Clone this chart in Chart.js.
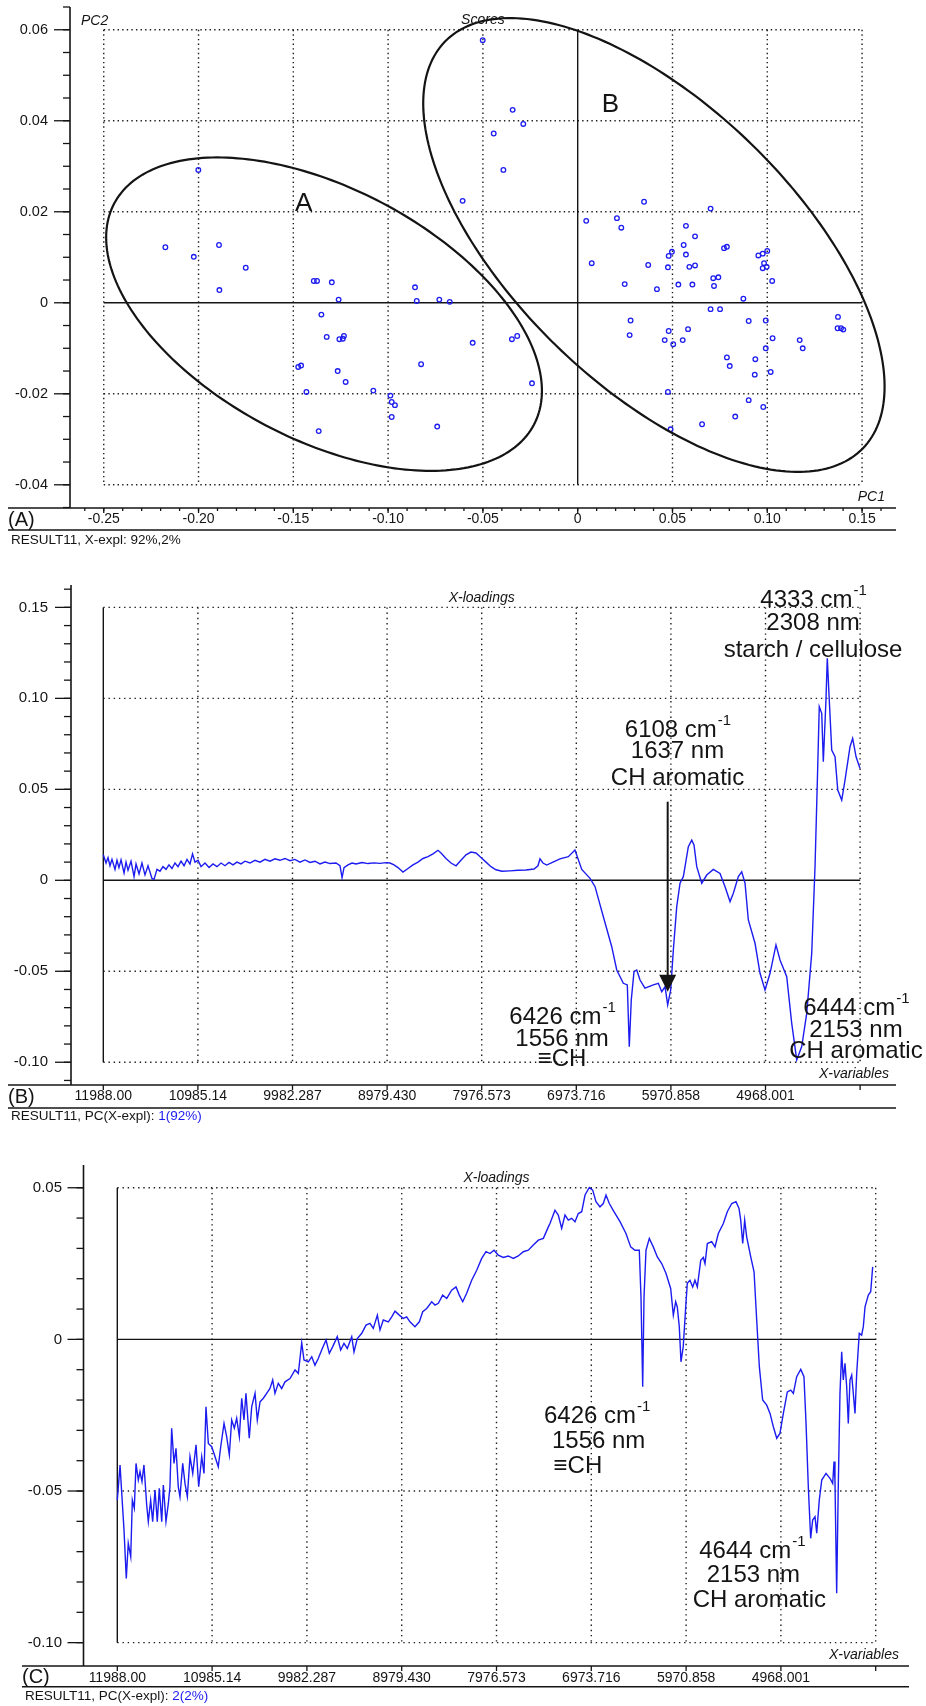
<!DOCTYPE html>
<html>
<head>
<meta charset="utf-8">
<title>PCA scores and X-loadings</title>
<script src="https://cdn.jsdelivr.net/npm/chart.js@4.4.1/dist/chart.umd.min.js"></script>
<style>
  html, body { margin: 0; padding: 0; background: #fff; }
  body { width: 926px; height: 1706px; position: relative; overflow: hidden; }
  canvas { position: absolute; left: 0; }
</style>
</head>
<body>
<canvas id="scoresChart" width="926" height="548" style="top:0"></canvas>
<canvas id="loading1Chart" width="926" height="578" style="top:548px"></canvas>
<canvas id="loading2Chart" width="926" height="580" style="top:1126px"></canvas>
<script>
// ---------- Panel A: scores (PC1 vs PC2) ----------
const scoresPC1 = [
  -0.2001, -0.2175, -0.2025, -0.1892, -0.1751, -0.1890, -0.1392, -0.1375, -0.1297, -0.1261,
  -0.1352, -0.1324, -0.1257, -0.1239, -0.1233, -0.1474, -0.1459, -0.1266, -0.1224, -0.1431,
  -0.1366, -0.1078, -0.0988, -0.0981, -0.0964, -0.0981, -0.0858, -0.0849, -0.0730, -0.0675,
  -0.0826, -0.0741, -0.0554, -0.0347, -0.0319, -0.0241,
  -0.0501, -0.0343, -0.0287, -0.0443, -0.0392, -0.0607, 0.0350, 0.0701, 0.0045, 0.0207,
  0.0230, 0.0571, 0.0619, 0.0559, 0.0571, 0.0480, 0.0497, 0.0772, 0.0787, 0.0953,
  0.0976, 0.1000, 0.0074, 0.0372, 0.0476, 0.0589, 0.0619, 0.0983, 0.0997, 0.0976,
  0.0248, 0.0418, 0.0531, 0.0605, 0.0715, 0.0742, 0.0719, 0.1026, 0.0874, 0.0701,
  0.0751, 0.0279, 0.0274, 0.0480, 0.0582, 0.0459, 0.0504, 0.0554, 0.0902, 0.0992,
  0.1028, 0.0992, 0.0787, 0.0802, 0.0937, 0.0934, 0.1018, 0.1171, 0.1187, 0.1373,
  0.1371, 0.1389, 0.1401, 0.0476, 0.0902, 0.0979, 0.0831, 0.0656, 0.0490
];
const scoresPC2 = [
  0.0292, 0.0122, 0.0101, 0.0127, 0.0077, 0.0028, 0.0048, 0.0048, 0.0045, 0.0007,
  -0.0026, -0.0075, -0.0080, -0.0079, -0.0073, -0.0141, -0.0138, -0.0150, -0.0174, -0.0196,
  -0.0282, -0.0193, -0.0204, -0.0218, -0.0225, -0.0251, 0.0034, 0.0004, 0.0007, 0.0002,
  -0.0135, -0.0272, -0.0088, -0.0080, -0.0073, -0.0177,
  0.0577, 0.0424, 0.0393, 0.0372, 0.0292, 0.0224, 0.0222, 0.0207, 0.0180, 0.0186,
  0.0165, 0.0169, 0.0146, 0.0127, 0.0106, 0.0103, 0.0112, 0.0120, 0.0123, 0.0104,
  0.0108, 0.0114, 0.0087, 0.0083, 0.0078, 0.0079, 0.0082, 0.0087, 0.0079, 0.0076,
  0.0041, 0.0030, 0.0040, 0.0040, 0.0054, 0.0056, 0.0037, 0.0048, 0.0009, -0.0014,
  -0.0014, -0.0039, -0.0071, -0.0062, -0.0058, -0.0082, -0.0091, -0.0082, -0.0040, -0.0039,
  -0.0078, -0.0100, -0.0120, -0.0139, -0.0124, -0.0158, -0.0152, -0.0082, -0.0100, -0.0031,
  -0.0056, -0.0056, -0.0059, -0.0196, -0.0214, -0.0229, -0.0250, -0.0267, -0.0278
];
const pc1Ticks = [-0.25, -0.20, -0.15, -0.10, -0.05, 0, 0.05, 0.10, 0.15];
const pc1TickLabels = ['-0.25', '-0.20', '-0.15', '-0.10', '-0.05', '0', '0.05', '0.10', '0.15'];
const pc2Ticks = [0.06, 0.04, 0.02, 0, -0.02, -0.04];
const pc2TickLabels = ['0.06', '0.04', '0.02', '0', '-0.02', '-0.04'];
// group ellipses: centre plus two semi-axis vectors, in score units
const ellipseA = { center: [-0.1338, -0.0025], u: [0.1107, -0.0243], v: [-0.0309, -0.0244] };
const ellipseB = { center: [0.0402, 0.0127], u: [0.1102, -0.0447], v: [-0.0516, -0.0221] };

// ---------- Panels B and C: X-loadings ----------
const wavenumberTicks = [11988.00, 10985.14, 9982.287, 8979.430, 7976.573, 6973.716, 5970.858, 4968.001, 3965.144];
const wavenumberTickLabels = ['11988.00', '10985.14', '9982.287', '8979.430', '7976.573', '6973.716', '5970.858', '4968.001', ''];
const loading1Ticks = [0.15, 0.10, 0.05, 0, -0.05, -0.10];
const loading1TickLabels = ['0.15', '0.10', '0.05', '0', '-0.05', '-0.10'];
const loading2Ticks = [0.05, 0, -0.05, -0.10];
const loading2TickLabels = ['0.05', '0', '-0.05', '-0.10'];

const loading1Wavenumbers = [
  11988, 11959, 11938, 11917, 11896, 11864, 11843, 11822, 11800, 11768, 11747, 11726, 11694, 11662, 11641,
  11609, 11578, 11546, 11514, 11472, 11450, 11419, 11387, 11355, 11323, 11292, 11260, 11228, 11196, 11164,
  11132, 11101, 11069, 11042, 11016, 10984, 10952, 10910, 10867, 10825, 10783, 10740, 10698, 10655, 10613,
  10571, 10528, 10486, 10433, 10380, 10327, 10274, 10221, 10168, 10115, 10062, 10009, 9956, 9903, 9850,
  9797, 9744, 9691, 9638, 9585, 9521, 9479, 9457, 9436, 9394, 9351, 9309, 9245, 9182, 9118,
  9055, 8991, 8949, 8906, 8864, 8811, 8758, 8705, 8652, 8599, 8546, 8493, 8440, 8408, 8355,
  8302, 8249, 8196, 8143, 8090, 8037, 7984, 7931, 7878, 7825, 7761, 7677, 7592, 7507, 7422,
  7380, 7359, 7327, 7288, 7221, 7147, 7058, 6988, 6916, 6828, 6775, 6687, 6598, 6545, 6475,
  6433, 6412, 6391, 6362, 6333, 6298, 6246, 6157, 6104, 6068, 6033, 6005, 5973, 5945, 5909,
  5874, 5839, 5786, 5750, 5726, 5697, 5644, 5591, 5521, 5450, 5397, 5344, 5309, 5256, 5220,
  5185, 5150, 5079, 5026, 4973, 4920, 4857, 4814, 4743, 4690, 4637, 4584, 4531, 4478, 4443,
  4419, 4398, 4372, 4355, 4327, 4313, 4292, 4266, 4231, 4202, 4160, 4125, 4072, 4044, 4008,
  3966
];
const loading1Values = [
  0.0140, 0.0095, 0.0125, 0.0080, 0.0115, 0.0060, 0.0110, 0.0070, 0.0112, 0.0040, 0.0100, 0.0055, 0.0105, 0.0020, 0.0090,
  0.0035, 0.0095, 0.0030, 0.0080, 0.0010, 0.0005, 0.0060, 0.0050, 0.0075, 0.0060, 0.0085, 0.0065, 0.0095, 0.0075, 0.0105,
  0.0080, 0.0115, 0.0090, 0.0145, 0.0100, 0.0110, 0.0075, 0.0095, 0.0070, 0.0090, 0.0075, 0.0095, 0.0080, 0.0098, 0.0085,
  0.0100, 0.0090, 0.0105, 0.0095, 0.0110, 0.0100, 0.0115, 0.0105, 0.0118, 0.0110, 0.0120, 0.0108, 0.0115, 0.0100, 0.0112,
  0.0098, 0.0105, 0.0090, 0.0100, 0.0092, 0.0095, 0.0080, 0.0015, 0.0070, 0.0085, 0.0095, 0.0090, 0.0098, 0.0092, 0.0096,
  0.0093, 0.0097, 0.0095, 0.0085, 0.0070, 0.0045, 0.0065, 0.0085, 0.0100, 0.0120, 0.0130, 0.0145, 0.0165, 0.0150, 0.0120,
  0.0095, 0.0080, 0.0110, 0.0140, 0.0155, 0.0150, 0.0125, 0.0100, 0.0075, 0.0058, 0.0050, 0.0052, 0.0055, 0.0057, 0.0062,
  0.0080, 0.0118, 0.0095, 0.0084, 0.0100, 0.0118, 0.0130, 0.0166, 0.0060, 0.0011, -0.0035, -0.0200, -0.0365, -0.0493, -0.0566,
  -0.0575, -0.0914, -0.0658, -0.0502, -0.0493, -0.0548, -0.0593, -0.0575, -0.0566, -0.0612, -0.0585, -0.0685, -0.0603, -0.0383, -0.0145,
  -0.0016, 0.0020, 0.0185, 0.0221, 0.0194, 0.0075, -0.0016, 0.0029, 0.0060, 0.0038, -0.0035, -0.0117, -0.0071, 0.0020, 0.0047,
  -0.0016, -0.0218, -0.0346, -0.0511, -0.0603, -0.0511, -0.0355, -0.0438, -0.0530, -0.0786, -0.0987, -0.0914, -0.0731, -0.0401, 0.0075,
  0.0533, 0.0954, 0.0918, 0.0652, 0.0991, 0.1220, 0.0991, 0.0716, 0.0679, 0.0496, 0.0441, 0.0551, 0.0734, 0.0780, 0.0679,
  0.0615
];

const loading2Wavenumbers = [
  11988, 11959, 11942, 11917, 11893, 11872, 11846, 11829, 11808, 11790, 11766, 11748, 11727, 11706, 11677,
  11660, 11635, 11614, 11589, 11565, 11544, 11518, 11501, 11473, 11448, 11431, 11413, 11388, 11367, 11343,
  11325, 11296, 11272, 11247, 11219, 11190, 11155, 11127, 11095, 11071, 11050, 11025, 10989, 10954, 10920,
  10894, 10859, 10831, 10803, 10778, 10750, 10725, 10697, 10672, 10648, 10627, 10592, 10566, 10531, 10507,
  10478, 10443, 10408, 10373, 10344, 10320, 10285, 10249, 10214, 10161, 10108, 10073, 10037, 10013, 9967,
  9931, 9897, 9862, 9826, 9780, 9745, 9709, 9661, 9625, 9590, 9555, 9508, 9484, 9449, 9402,
  9357, 9315, 9280, 9237, 9209, 9174, 9121, 9085, 9050, 9005, 8962, 8927, 8892, 8839, 8793,
  8757, 8715, 8662, 8627, 8592, 8546, 8503, 8451, 8405, 8370, 8334, 8292, 8239, 8186, 8133,
  8088, 8045, 8003, 7958, 7905, 7852, 7799, 7746, 7693, 7640, 7587, 7534, 7481, 7428, 7411,
  7358, 7323, 7287, 7252, 7217, 7181, 7146, 7111, 7075, 7040, 6995, 6959, 6924, 6882, 6847,
  6818, 6783, 6734, 6670, 6607, 6557, 6512, 6466, 6448, 6430, 6416, 6395, 6360, 6318, 6275,
  6229, 6184, 6134, 6106, 6081, 6064, 6043, 6025, 6001, 5975, 5958, 5930, 5901, 5877, 5852,
  5816, 5789, 5771, 5746, 5700, 5665, 5630, 5577, 5535, 5488, 5443, 5411, 5393, 5372, 5351,
  5330, 5287, 5252, 5224, 5196, 5161, 5118, 5083, 5048, 5012, 4978, 4942, 4900, 4864, 4836,
  4801, 4758, 4724, 4702, 4678, 4653, 4632, 4607, 4589, 4562, 4536, 4491, 4449, 4420, 4406,
  4396, 4378, 4361, 4343, 4325, 4308, 4290, 4272, 4255, 4237, 4219, 4202, 4184, 4166, 4139,
  4114, 4096, 4078, 4043, 4018, 3997
];
const loading2Values = [
  -0.0530, -0.0414, -0.0502, -0.0629, -0.0788, -0.0672, -0.0717, -0.0530, -0.0557, -0.0409, -0.0464, -0.0436, -0.0469, -0.0414, -0.0546,
  -0.0601, -0.0530, -0.0601, -0.0497, -0.0601, -0.0491, -0.0601, -0.0480, -0.0601, -0.0541, -0.0486, -0.0293, -0.0409, -0.0359, -0.0486,
  -0.0519, -0.0409, -0.0475, -0.0519, -0.0387, -0.0442, -0.0348, -0.0486, -0.0387, -0.0442, -0.0222, -0.0343, -0.0354, -0.0387, -0.0420,
  -0.0354, -0.0277, -0.0321, -0.0381, -0.0266, -0.0293, -0.0260, -0.0321, -0.0194, -0.0266, -0.0178, -0.0326, -0.0222, -0.0178, -0.0266,
  -0.0206, -0.0194, -0.0178, -0.0162, -0.0134, -0.0178, -0.0145, -0.0162, -0.0140, -0.0129, -0.0101, -0.0112, -0.0011, -0.0068, -0.0074,
  -0.0057, -0.0085, -0.0063, -0.0035, -0.0002, -0.0046, -0.0024, 0.0009, -0.0035, -0.0013, -0.0030, 0.0009, -0.0041, 0.0003, 0.0020,
  0.0047, 0.0053, 0.0036, 0.0080, 0.0031, 0.0064, 0.0058, 0.0074, 0.0093, 0.0080, 0.0069, 0.0074, 0.0058, 0.0042, 0.0058,
  0.0091, 0.0102, 0.0124, 0.0113, 0.0119, 0.0146, 0.0135, 0.0162, 0.0173, 0.0146, 0.0124, 0.0152, 0.0195, 0.0228, 0.0267,
  0.0289, 0.0283, 0.0294, 0.0278, 0.0270, 0.0275, 0.0267, 0.0275, 0.0289, 0.0294, 0.0311, 0.0327, 0.0333, 0.0371, 0.0382,
  0.0426, 0.0410, 0.0366, 0.0410, 0.0393, 0.0399, 0.0388, 0.0415, 0.0421, 0.0476, 0.0501, 0.0492, 0.0454, 0.0437, 0.0448,
  0.0476, 0.0448, 0.0421, 0.0388, 0.0349, 0.0305, 0.0294, 0.0294, 0.0140, -0.0156, 0.0140, 0.0294, 0.0333, 0.0305, 0.0272,
  0.0250, 0.0218, 0.0168, 0.0080, 0.0124, 0.0107, 0.0042, -0.0074, -0.0024, 0.0107, 0.0185, 0.0195, 0.0173, 0.0195, 0.0173,
  0.0261, 0.0270, 0.0250, 0.0316, 0.0322, 0.0305, 0.0349, 0.0382, 0.0421, 0.0448, 0.0454, 0.0432, 0.0393, 0.0316, 0.0393,
  0.0338, 0.0272, 0.0223, 0.0064, -0.0090, -0.0200, -0.0217, -0.0244, -0.0288, -0.0326, -0.0310, -0.0244, -0.0173, -0.0167, -0.0178,
  -0.0123, -0.0099, -0.0123, -0.0277, -0.0486, -0.0656, -0.0596, -0.0585, -0.0639, -0.0530, -0.0464, -0.0442, -0.0458, -0.0475, -0.0403,
  -0.0464, -0.0837, -0.0486, -0.0178, -0.0041, -0.0134, -0.0079, -0.0156, -0.0277, -0.0134, -0.0118, -0.0178, -0.0244, -0.0112, 0.0020,
  0.0014, 0.0042, 0.0107, 0.0146, 0.0157, 0.0239
];

// ---------- drawing helpers ----------
const INK = '#141414';
const BLUE = '#1c1cf0';
const SANS = "'Liberation Sans', Arial, Helvetica, 'DejaVu Sans', sans-serif";

const strokeLine = (ctx, x1, y1, x2, y2) => {
  ctx.beginPath();
  ctx.moveTo(x1, y1);
  ctx.lineTo(x2, y2);
  ctx.stroke();
};

// Unscrambler-style frame: dotted grid box, solid zero lines, left/bottom axes, captions
const panelFrame = {
  id: 'panelFrame',
  beforeDatasetsDraw(chart, args, o) {
    const { ctx, scales: { x, y } } = chart;
    const xs = o.gridX.map(v => x.getPixelForValue(v));
    const ys = o.gridY.map(v => y.getPixelForValue(v));
    const xLo = Math.min(...xs), xHi = Math.max(...xs);
    const yLo = Math.min(...ys), yHi = Math.max(...ys);
    ctx.save();
    ctx.strokeStyle = '#1e1e1e';
    ctx.lineWidth = 1.4;
    ctx.setLineDash(o.dash);
    xs.forEach((px, i) => { if (o.gridX[i] !== o.solidX) strokeLine(ctx, px, yLo, px, yHi); });
    ys.forEach((py, i) => { if (o.gridY[i] !== o.solidY) strokeLine(ctx, xLo, py, xHi, py); });
    ctx.setLineDash([]);
    ctx.strokeStyle = INK;
    ctx.lineWidth = 1.4;
    const sx = x.getPixelForValue(o.solidX), sy = y.getPixelForValue(o.solidY);
    strokeLine(ctx, sx, yLo, sx, yHi);
    strokeLine(ctx, xLo, sy, xHi, sy);
    ctx.restore();
  },
  afterDatasetsDraw(chart, args, o) {
    const { ctx, chartArea: a, scales: { x, y } } = chart;
    ctx.save();
    ctx.strokeStyle = INK;
    ctx.fillStyle = INK;

    // axes and footer rule
    ctx.lineWidth = 1.6;
    strokeLine(ctx, a.left, a.top, a.left, a.bottom);
    strokeLine(ctx, o.frameLeft, a.bottom, a.right, a.bottom);
    strokeLine(ctx, o.frameLeft, a.bottom + o.footGap, a.right, a.bottom + o.footGap);

    // y ticks
    ctx.lineWidth = 1.3;
    o.ticksY.forEach(v => {
      const py = y.getPixelForValue(v);
      strokeLine(ctx, a.left - 16, py, a.left, py);
    });
    for (let k = Math.ceil(y.min / o.minorY); k * o.minorY <= y.max; k++) {
      const py = y.getPixelForValue(k * o.minorY);
      strokeLine(ctx, a.left - 7, py, a.left, py);
    }
    // x ticks
    o.ticksX.forEach(v => {
      const px = x.getPixelForValue(v);
      strokeLine(ctx, px, a.bottom, px, a.bottom + 5);
    });
    if (o.minorX) {
      for (let k = Math.ceil(x.min / o.minorX); k * o.minorX <= x.max; k++) {
        const px = x.getPixelForValue(k * o.minorX);
        strokeLine(ctx, px, a.bottom, px, a.bottom + 3);
      }
    }

    // tick labels
    ctx.textBaseline = 'middle';
    ctx.textAlign = 'right';
    ctx.font = `${o.yLabelSize}px ${SANS}`;
    o.ticksY.forEach((v, i) => ctx.fillText(o.labelsY[i], a.left - o.yLabelGap, y.getPixelForValue(v)));
    ctx.textAlign = 'center';
    ctx.font = `${o.xLabelSize}px ${SANS}`;
    o.ticksX.forEach((v, i) => ctx.fillText(o.labelsX[i], x.getPixelForValue(v), a.bottom + o.xLabelDy));

    // panel letter and result line
    ctx.textAlign = 'left';
    ctx.font = `20px ${SANS}`;
    ctx.fillText(o.letter, o.frameLeft, a.bottom + o.footGap / 2 + 1);
    ctx.font = `13.5px ${SANS}`;
    let rx = o.frameLeft + 3;
    o.result.forEach(part => {
      ctx.fillStyle = part.color;
      ctx.fillText(part.text, rx, a.bottom + o.footGap + o.resultDy);
      rx += ctx.measureText(part.text).width;
    });
    ctx.fillStyle = INK;

    // italic captions
    ctx.font = `italic 14px ${SANS}`;
    const gridMid = (x.getPixelForValue(o.gridX[0]) + x.getPixelForValue(o.gridX[o.gridX.length - 1])) / 2;
    ctx.textAlign = 'center';
    ctx.fillText(o.captions.title, gridMid, a.top + 13);
    if (o.captions.topLeft) {
      ctx.textAlign = 'left';
      ctx.fillText(o.captions.topLeft, a.left + 11, a.top + 14);
    }
    ctx.textAlign = 'right';
    ctx.fillText(o.captions.bottomRight, a.right - o.capRight, a.bottom - 11);

    // group ellipses
    (o.ellipses || []).forEach(e => {
      const cx = x.getPixelForValue(e.center[0]), cy = y.getPixelForValue(e.center[1]);
      const ux = x.getPixelForValue(e.center[0] + e.u[0]) - cx, uy = y.getPixelForValue(e.center[1] + e.u[1]) - cy;
      const vx = x.getPixelForValue(e.center[0] + e.v[0]) - cx, vy = y.getPixelForValue(e.center[1] + e.v[1]) - cy;
      ctx.lineWidth = 2.2;
      ctx.beginPath();
      for (let i = 0; i <= 240; i++) {
        const t = (i / 240) * Math.PI * 2;
        const px = cx + ux * Math.cos(t) + vx * Math.sin(t);
        const py = cy + uy * Math.cos(t) + vy * Math.sin(t);
        if (i === 0) ctx.moveTo(px, py); else ctx.lineTo(px, py);
      }
      ctx.closePath();
      ctx.stroke();
    });
    ctx.font = `26px ${SANS}`;
    ctx.textAlign = 'center';
    (o.groupLabels || []).forEach(g => ctx.fillText(g.text, x.getPixelForValue(g.x), y.getPixelForValue(g.y)));

    // band annotations (centred, with superscript)
    ctx.textAlign = 'left';
    ctx.textBaseline = 'alphabetic';
    (o.notes || []).forEach(n => {
      ctx.font = `24px ${SANS}`;
      const w1 = ctx.measureText(n.text).width;
      ctx.font = `15px ${SANS}`;
      const w2 = n.sup ? ctx.measureText(n.sup).width : 0;
      const left = x.getPixelForValue(n.x) - (w1 + w2) / 2;
      const base = y.getPixelForValue(n.y);
      ctx.font = `24px ${SANS}`;
      ctx.fillText(n.text, left, base);
      if (n.sup) {
        ctx.font = `15px ${SANS}`;
        ctx.fillText(n.sup, left + w1 + 1, base - 12);
      }
    });

    // arrow
    if (o.arrow) {
      const px = x.getPixelForValue(o.arrow.x);
      const y1 = y.getPixelForValue(o.arrow.from), y2 = y.getPixelForValue(o.arrow.to);
      ctx.lineWidth = 2;
      strokeLine(ctx, px, y1, px, y2 - 14);
      ctx.beginPath();
      ctx.moveTo(px - 8.5, y2 - 17);
      ctx.lineTo(px + 8.5, y2 - 17);
      ctx.lineTo(px, y2);
      ctx.closePath();
      ctx.fill();
    }
    ctx.restore();
  }
};

const baseOptions = (padding, xScale, yScale, frame) => ({
  responsive: false,
  animation: false,
  events: [],
  layout: { padding },
  plugins: { legend: { display: false }, tooltip: { enabled: false }, panelFrame: frame },
  scales: {
    x: Object.assign({ type: 'linear', display: false }, xScale),
    y: Object.assign({ type: 'linear', display: false }, yScale)
  }
});

// ---------- Chart A ----------
new Chart(document.getElementById('scoresChart'), {
  type: 'scatter',
  data: {
    datasets: [{
      data: scoresPC1.map((v, i) => ({ x: v, y: scoresPC2[i] })),
      pointStyle: 'circle',
      pointRadius: 2.3,
      borderWidth: 1.3,
      borderColor: BLUE,
      backgroundColor: 'rgba(0,0,0,0)'
    }]
  },
  options: baseOptions(
    { left: 70, right: 30, top: 7, bottom: 40 },
    { min: -0.2678, max: 0.1679 },
    { min: -0.0451, max: 0.0650 },
    {
      gridX: pc1Ticks, gridY: pc2Ticks, solidX: 0, solidY: 0, dash: [1.4, 3.2],
      ticksX: pc1Ticks, labelsX: pc1TickLabels, minorX: 0.01,
      ticksY: pc2Ticks, labelsY: pc2TickLabels, minorY: 0.005,
      frameLeft: 8, footGap: 22, xLabelDy: 11, xLabelSize: 14, yLabelSize: 14.5, yLabelGap: 22, resultDy: 10,
      letter: '(A)', result: [{ text: 'RESULT11, X-expl: 92%,2%', color: INK }],
      captions: { topLeft: 'PC2', title: 'Scores', bottomRight: 'PC1' }, capRight: 11,
      ellipses: [ellipseA, ellipseB],
      groupLabels: [{ text: 'A', x: -0.1446, y: 0.0217 }, { text: 'B', x: 0.0173, y: 0.0435 }]
    }
  ),
  plugins: [panelFrame]
});

// ---------- Chart B ----------
new Chart(document.getElementById('loading1Chart'), {
  type: 'line',
  data: {
    datasets: [{
      data: loading1Wavenumbers.map((w, i) => ({ x: w, y: loading1Values[i] })),
      borderColor: BLUE,
      borderWidth: 1.4,
      pointRadius: 0,
      tension: 0,
      fill: false
    }]
  },
  options: baseOptions(
    { left: 71, right: 30, top: 37, bottom: 41 },
    { min: 3584.6, max: 12330.4, reverse: true },
    { min: -0.1125, max: 0.1623 },
    {
      gridX: wavenumberTicks, gridY: loading1Ticks, solidX: 11988, solidY: 0, dash: [1.4, 3.8],
      ticksX: wavenumberTicks, labelsX: wavenumberTickLabels, minorX: 0,
      ticksY: loading1Ticks, labelsY: loading1TickLabels, minorY: 0.01,
      frameLeft: 8, footGap: 23, xLabelDy: 11, xLabelSize: 14, yLabelSize: 15, yLabelGap: 23, resultDy: 8,
      letter: '(B)', result: [{ text: 'RESULT11, PC(X-expl): ', color: INK }, { text: '1(92%)', color: BLUE }],
      captions: { title: 'X-loadings', bottomRight: 'X-variables' }, capRight: 7,
      notes: [
        { text: '4333 cm', sup: '-1', x: 4464, y: 0.1502 },
        { text: '2308 nm', x: 4464, y: 0.1375 },
        { text: 'starch / cellulose', x: 4464, y: 0.1229 },
        { text: '6108 cm', sup: '-1', x: 5901, y: 0.0789 },
        { text: '1637 nm', x: 5901, y: 0.0670 },
        { text: 'CH aromatic', x: 5901, y: 0.0524 },
        { text: '6426 cm', sup: '-1', x: 7125, y: -0.0790 },
        { text: '1556 nm', x: 7125, y: -0.0910 },
        { text: '\u2261CH', x: 7125, y: -0.1020 },
        { text: '6444 cm', sup: '-1', x: 4009, y: -0.0740 },
        { text: '2153 nm', x: 4009, y: -0.0859 },
        { text: 'CH aromatic', x: 4009, y: -0.0978 }
      ],
      arrow: { x: 6005, from: 0.0432, to: -0.0612 }
    }
  ),
  plugins: [panelFrame]
});

// ---------- Chart C ----------
new Chart(document.getElementById('loading2Chart'), {
  type: 'line',
  data: {
    datasets: [{
      data: loading2Wavenumbers.map((w, i) => ({ x: w, y: loading2Values[i] })),
      borderColor: BLUE,
      borderWidth: 1.4,
      pointRadius: 0,
      tension: 0,
      fill: false
    }]
  },
  options: baseOptions(
    { left: 83.5, right: 17, top: 39, bottom: 40 },
    { min: 3612.8, max: 12345.6, reverse: true },
    { min: -0.1077, max: 0.0575 },
    {
      gridX: wavenumberTicks, gridY: loading2Ticks, solidX: 11988, solidY: 0, dash: [1.4, 3.8],
      ticksX: wavenumberTicks, labelsX: wavenumberTickLabels, minorX: 0,
      ticksY: loading2Ticks, labelsY: loading2TickLabels, minorY: 0.01,
      frameLeft: 22, footGap: 20.7, xLabelDy: 12.5, xLabelSize: 14, yLabelSize: 15, yLabelGap: 21.5, resultDy: 10,
      letter: '(C)', result: [{ text: 'RESULT11, PC(X-expl): ', color: INK }, { text: '2(2%)', color: BLUE }],
      captions: { title: 'X-loadings', bottomRight: 'X-variables' }, capRight: 10,
      notes: [
        { text: '6426 cm', sup: '-1', x: 6917, y: -0.0277 },
        { text: '1556 nm', x: 6896, y: -0.0359 },
        { text: '\u2261CH', x: 7115, y: -0.0442 },
        { text: '4644 cm', sup: '-1', x: 5274, y: -0.0722 },
        { text: '2153 nm', x: 5259, y: -0.0799 },
        { text: 'CH aromatic', x: 5196, y: -0.0883 }
      ]
    }
  ),
  plugins: [panelFrame]
});
</script>
</body>
</html>
